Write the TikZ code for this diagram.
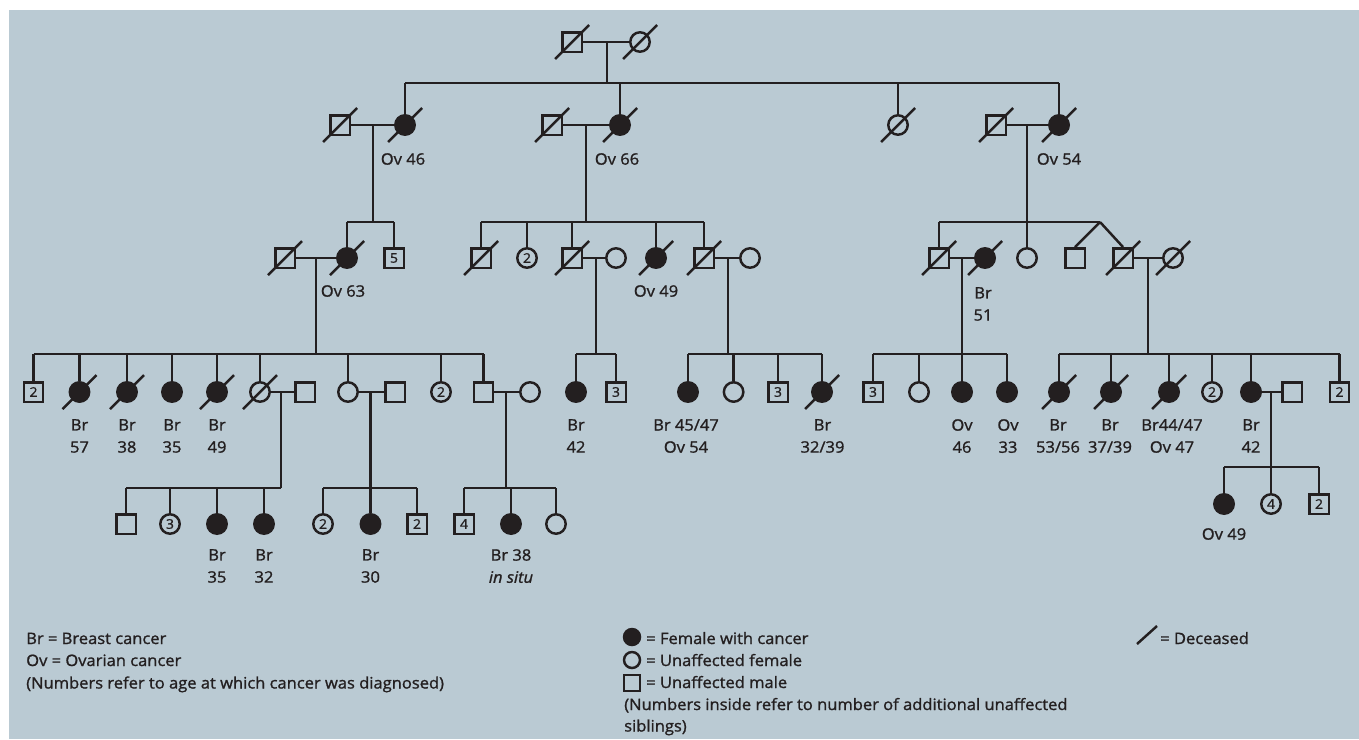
\documentclass[tikz,border=0pt]{standalone}
\usepackage{fontspec}
\setmainfont{Open Sans}[FakeStretch=1.05,FakeBold=1.2]
\definecolor{bgc}{RGB}{186,202,211}
\definecolor{ink}{RGB}{35,31,32}
\newcommand\deadmark[1]{\draw[dd] ([shift={(-17,17)}]#1.center) -- ([shift={(17,-17)}]#1.center);}
\newcommand\kid[2]{\draw (#1.north) -- (#1.north |- #2);}
\begin{document}
\begin{tikzpicture}[x=0.75pt,y=-0.75pt,color=ink,line width=1.85pt,
  sym/.style={draw=ink,inner sep=0pt,minimum size=14.6pt,line width=1.85pt,font=\fontsize{10}{10}\selectfont},
  m/.style={sym,rectangle},
  f/.style={sym,circle},
  fa/.style={sym,circle,fill=ink},
  lab/.style={anchor=north,align=center,inner sep=0pt,font=\fontsize{11.8}{16.6}\selectfont},
  leg/.style={anchor=base west,inner sep=0pt,font=\fontsize{11.8}{14}\selectfont},
  dd/.style={line width=1.85pt}]
\useasboundingbox (0,0) rectangle (1359,739);
\fill[bgc] (9,10) rectangle (1359,739);
% generation 0
\node[m] (g0m) at (572,42) {};
\node[f] (g0f) at (640,42) {};
\draw (g0m) -- (g0f);
\coordinate (g0c) at (607,42);
\coordinate (g0s) at (607,83);
\draw (g0c) -- (g0s);
% generation 1
\node[m] (g1am) at (340,125) {};
\node[fa] (g1af) at (405,125) {};
\node[lab] (t1a) at (403,152) {Ov 46};
\node[m] (g1bm) at (552,125) {};
\node[fa] (g1bf) at (620,125) {};
\node[lab] (t1b) at (617,152) {Ov 66};
\node[f] (g1c) at (898,125) {};
\node[m] (g1dm) at (996,125) {};
\node[fa] (g1df) at (1059,125) {};
\node[lab] (t1d) at (1059,152) {Ov 54};
\draw (g1af.north |- g0s) -- (g1df.north |- g0s);
\foreach \n in {g1af,g1bf,g1c,g1df} {\kid{\n}{g0s}}
\draw (g1am) -- (g1af);
\draw (g1bm) -- (g1bf);
\draw (g1dm) -- (g1df);
\coordinate (g1ac) at (373,125); \coordinate (g1as) at (373,222);
\coordinate (g1bc) at (586,125); \coordinate (g1bs) at (586,222);
\coordinate (g1dc) at (1027,125); \coordinate (g1ds) at (1027,222);
\draw (g1ac) -- (g1as);
\draw (g1bc) -- (g1bs);
\draw (g1dc) -- (g1ds);
% generation 2
\node[m] (g2am) at (285,258) {};
\node[fa] (g2af) at (347,258) {};
\node[m] (g2a5) at (394,258) {5};
\node[lab] (t2a) at (343,284) {Ov 63};
\draw (g2af.north |- g1as) -- (g2a5.north |- g1as);
\foreach \n in {g2af,g2a5} {\kid{\n}{g1as}}
\draw (g2am) -- (g2af);
\coordinate (g2ac) at (316,258); \coordinate (g2as) at (316,354);
\draw (g2ac) -- (g2as);
\node[m] (g2b1) at (481,258) {};
\node[f] (g2b2) at (527,258) {2};
\node[m] (g2b3) at (572,258) {};
\node[f] (g2b3w) at (616,258) {};
\node[fa] (g2b4) at (656,258) {};
\node[lab] (t2b) at (656,284) {Ov 49};
\node[m] (g2b5) at (704,258) {};
\node[f] (g2b5w) at (750,258) {};
\draw (g2b1.north |- g1bs) -- (g2b5.north |- g1bs);
\foreach \n in {g2b1,g2b2,g2b3,g2b4,g2b5} {\kid{\n}{g1bs}}
\draw (g2b3) -- (g2b3w);
\draw (g2b5) -- (g2b5w);
\coordinate (g2bc) at (596,258); \coordinate (g2bs) at (596,354);
\coordinate (g2cc) at (728,258); \coordinate (g2cs) at (728,354);
\draw (g2bc) -- (g2bs);
\draw (g2cc) -- (g2cs);
\node[m] (g2d1) at (939,258) {};
\node[fa] (g2d1w) at (985,258) {};
\node[lab] (t2d) at (983,286) {Br\\51};
\node[f] (g2d2) at (1027,258) {};
\coordinate (tw) at (1100,222);
\node[m] (g2d3) at (1075,258) {};
\node[m] (g2d4) at (1123,258) {};
\node[f] (g2d4w) at (1173,258) {};
\draw (g2d1.north |- g1ds) -- (tw);
\foreach \n in {g2d1,g2d2} {\kid{\n}{g1ds}}
\draw (tw) -- (g2d3.north);
\draw (tw) -- (g2d4.north);
\draw (g2d1) -- (g2d1w);
\draw (g2d4) -- (g2d4w);
\coordinate (g2dc) at (962,258); \coordinate (g2ds) at (962,354);
\coordinate (g2ec) at (1148,258); \coordinate (g2es) at (1148,354);
\draw (g2dc) -- (g2ds);
\draw (g2ec) -- (g2es);
% generation 3
\node[m] (g3a1) at (33.5,392) {2};
\node[fa] (g3a2) at (79.5,392) {};
\node[fa] (g3a3) at (127,392) {};
\node[fa] (g3a4) at (172,392) {};
\node[fa] (g3a5) at (217,392) {};
\node[f] (g3a6) at (260,392) {};
\node[m] (g3a6h) at (305,392) {};
\node[f] (g3a7) at (348,392) {};
\node[m] (g3a7h) at (395,392) {};
\node[f] (g3a8) at (441,392) {2};
\node[m] (g3a9) at (483.5,392) {};
\node[f] (g3a9w) at (530,392) {};
\node[lab] (t3a2) at (79.5,418) {Br\\57};
\node[lab] (t3a3) at (127,418) {Br\\38};
\node[lab] (t3a4) at (172,418) {Br\\35};
\node[lab] (t3a5) at (217,418) {Br\\49};
\draw (g3a1.north |- g2as) -- (g3a9.north |- g2as);
\foreach \n in {g3a1,g3a2,g3a3,g3a4,g3a5,g3a6,g3a7,g3a8,g3a9} {\kid{\n}{g2as}}
\draw (g3a6) -- (g3a6h);
\draw (g3a7) -- (g3a7h);
\draw (g3a9) -- (g3a9w);
\coordinate (g3ac) at (281,392); \coordinate (g3as) at (281,488);
\coordinate (g3bc) at (370.5,392); \coordinate (g3bs) at (370.5,488);
\coordinate (g3cc) at (506,392); \coordinate (g3cs) at (506,488);
\draw (g3ac) -- (g3as);
\draw (g3bc) -- (g3bs);
\draw (g3cc) -- (g3cs);
\node[fa] (g3b1) at (576,392) {};
\node[m] (g3b2) at (616,392) {3};
\node[lab] (t3b1) at (576,418) {Br\\42};
\draw (g3b1.north |- g2bs) -- (g3b2.north |- g2bs);
\foreach \n in {g3b1,g3b2} {\kid{\n}{g2bs}}
\node[fa] (g3c1) at (688,392) {};
\node[f] (g3c2) at (733.6,392) {};
\node[m] (g3c3) at (778,392) {3};
\node[fa] (g3c4) at (822,392) {};
\node[lab] (t3c1) at (686,418) {Br 45/47\\Ov 54};
\node[lab] (t3c4) at (822.5,418) {Br\\32/39};
\draw (g3c1.north |- g2cs) -- (g3c4.north |- g2cs);
\foreach \n in {g3c1,g3c2,g3c3,g3c4} {\kid{\n}{g2cs}}
\node[m] (g3d1) at (873,392) {3};
\node[f] (g3d2) at (919,392) {};
\node[fa] (g3d3) at (962,392) {};
\node[fa] (g3d4) at (1007,392) {};
\node[lab] (t3d3) at (962,418) {Ov\\46};
\node[lab] (t3d4) at (1008,418) {Ov\\33};
\draw (g3d1.north |- g2ds) -- (g3d4.north |- g2ds);
\foreach \n in {g3d1,g3d2,g3d3,g3d4} {\kid{\n}{g2ds}}
\node[fa] (g3e1) at (1059,392) {};
\node[fa] (g3e2) at (1111,392) {};
\node[fa] (g3e3) at (1169,392) {};
\node[f] (g3e4) at (1212,392) {2};
\node[fa] (g3e5) at (1251,392) {};
\node[m] (g3e5h) at (1292,392) {};
\node[m] (g3e6) at (1339.5,392) {2};
\node[lab] (t3e1) at (1058,418) {Br\\53/56};
\node[lab] (t3e2) at (1110,418) {Br\\37/39};
\node[lab] (t3e3) at (1172,418) {Br44/47\\Ov 47};
\node[lab] (t3e5) at (1251,418) {Br\\42};
\draw (g3e1.north |- g2es) -- (g3e6.north |- g2es);
\foreach \n in {g3e1,g3e2,g3e3,g3e4,g3e5,g3e6} {\kid{\n}{g2es}}
\draw (g3e5) -- (g3e5h);
\coordinate (g3ec) at (1271,392); \coordinate (g3es) at (1271,467);
\draw (g3ec) -- (g3es);
% generation 4
\node[m] (g4a1) at (126,524) {};
\node[f] (g4a2) at (170,524) {3};
\node[fa] (g4a3) at (217,524) {};
\node[fa] (g4a4) at (264,524) {};
\node[lab] (t4a3) at (217,548) {Br\\35};
\node[lab] (t4a4) at (264,548) {Br\\32};
\draw (g4a1.north |- g3as) -- (g3as);
\foreach \n in {g4a1,g4a2,g4a3,g4a4} {\kid{\n}{g3as}}
\node[f] (g4b1) at (323,524) {2};
\node[fa] (g4b2) at (370.5,524) {};
\node[m] (g4b3) at (417,524) {2};
\node[lab] (t4b2) at (370.5,548) {Br\\30};
\draw (g4b1.north |- g3bs) -- (g4b3.north |- g3bs);
\foreach \n in {g4b1,g4b2,g4b3} {\kid{\n}{g3bs}}
\node[m] (g4c1) at (464,524) {4};
\node[fa] (g4c2) at (511,524) {};
\node[f] (g4c3) at (556,524) {};
\node[lab] (t4c2) at (511,548) {Br 38\\\textit{in situ}};
\draw (g4c1.north |- g3cs) -- (g4c3.north |- g3cs);
\foreach \n in {g4c1,g4c2,g4c3} {\kid{\n}{g3cs}}
\node[fa] (g4d1) at (1224,504) {};
\node[f] (g4d2) at (1271,504) {4};
\node[m] (g4d3) at (1319,504) {2};
\node[lab] (t4d1) at (1224,527) {Ov 49};
\draw (g4d1.north |- g3es) -- (g4d3.north |- g3es);
\foreach \n in {g4d1,g4d2,g4d3} {\kid{\n}{g3es}}
% deceased marks
\foreach \n in {g0m,g0f,g1am,g1af,g1bm,g1bf,g1c,g1dm,g1df,g2am,g2af,g2b1,g2b3,g2b4,g2b5,g2d1,g2d1w,g2d4,g2d4w,g3a2,g3a3,g3a5,g3a6,g3c4,g3e1,g3e2,g3e3} {\deadmark{\n}}
% legend
\node[leg] (lt1) at (25,644) {Br = Breast cancer};
\node[leg] (lt2) at (25,666) {Ov = Ovarian cancer};
\node[leg] (lt3) at (25,688.5) {(Numbers refer to age at which cancer was diagnosed)};
\node[fa,minimum size=12pt] (lsf) at (632,637) {};
\node[f,minimum size=12pt] (lsc) at (632,660) {};
\node[m,minimum size=12pt] (lsm) at (632,683) {};
\node[leg] (lt4) at (645,644) {= Female with cancer};
\node[leg] (lt5) at (645,666) {= Unaffected female};
\node[leg] (lt6) at (645,688) {= Unaffected male};
\node[leg] (lt7) at (623,710) {(Numbers inside refer to number of additional unaffected};
\node[leg] (lt8) at (623,731.5) {siblings)};
\coordinate (ld1) at (1137,644);
\coordinate (ld2) at (1157,626);
\draw[dd] (ld1) -- (ld2);
\node[leg] (lt9) at (1159,644) {= Deceased};
\end{tikzpicture}
\end{document}
